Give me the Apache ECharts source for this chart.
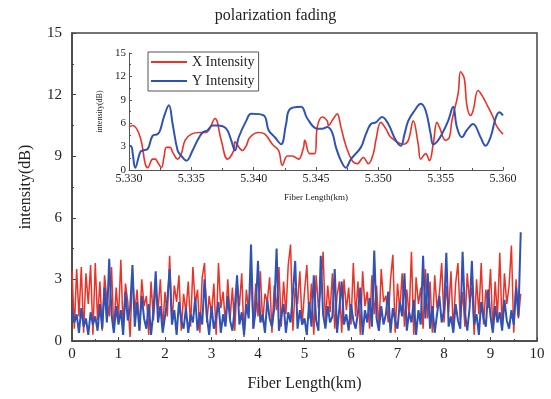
<!DOCTYPE html>
<html>
<head>
<meta charset="utf-8">
<script src="https://cdn.jsdelivr.net/npm/echarts@6/dist/echarts.min.js"></script>
<style>
  html, body { margin: 0; padding: 0; background: #fff; }
  #chart { width: 551px; height: 399px; }
</style>
</head>
<body>
<div id="chart"></div>
<script>
// main trace: sampled every 0.05 km from 0 to 9.65 km
const mainStep = 0.05;
const mainX = [
  3.4, 0.6, 3.5, 1.2, 3.6, 0.4, 3.3, 1.8, 3.7, 0.3,
  3.8, 1.0, 2.9, 0.5, 3.2, 2.0, 1.2, 3.6, 0.4, 2.6,
  1.1, 3.95, 0.6, 2.8, 1.9, 0.2, 3.3, 1.4, 2.5, 0.5,
  3.0, 1.7, 2.2, 0.3, 2.9, 1.0, 2.6, 1.5, 3.0, 0.6,
  2.4, 1.2, 4.15, 0.8, 2.7, 1.9, 3.2, 0.5, 2.3, 1.4,
  2.9, 0.7, 3.6, 1.8, 2.5, 0.4, 3.1, 3.8, 0.9, 2.2,
  1.3, 2.8, 0.3, 3.8, 1.6, 2.4, 0.8, 3.0, 1.1, 2.6,
  0.5, 2.9, 1.7, 3.3, 0.2, 2.5, 1.4, 3.5, 0.6, 2.8,
  1.2, 3.4, 0.9, 2.3, 1.9, 3.1, 0.4, 2.7, 1.5, 3.6,
  0.7, 2.9, 1.3, 3.7, 4.7, 0.5, 2.6, 1.8, 3.4, 0.8,
  2.4, 3.7, 1.1, 2.8, 0.3, 3.2, 1.6, 2.5, 4.35, 0.9,
  2.7, 1.4, 3.3, 0.6, 2.2, 2.9, 0.4, 3.0, 1.5, 2.6,
  0.8, 3.8, 1.2, 2.9, 0.3, 3.4, 1.7, 2.4, 0.6, 3.2,
  1.3, 2.7, 0.5, 3.5, 1.9, 2.2, 0.9, 3.0, 4.2, 0.4,
  2.8, 1.5, 3.3, 0.7, 2.5, 1.2, 4.35, 0.3, 3.1, 1.8,
  2.6, 0.6, 3.5, 1.1, 2.9, 0.4, 3.2, 1.6, 2.3, 3.8,
  0.9, 2.7, 1.4, 3.4, 0.5, 2.8, 3.8, 1.0, 2.4, 0.7,
  3.3, 1.9, 2.6, 0.3, 3.0, 1.3, 3.8, 0.8, 2.5, 1.6,
  3.5, 0.5, 2.9, 1.2, 4.3, 0.6, 3.3, 1.8, 2.7, 4.65,
  0.4, 3.0, 1.1, 2.3
];
const mainY = [
  1.5, 0.9, 1.3, 0.4, 1.6, 0.7, 1.1, 0.3, 1.4, 0.8,
  1.2, 0.5, 1.8, 0.6, 2.6, 0.9, 4.0, 1.3, 0.4, 1.7,
  0.8, 1.5, 0.3, 2.4, 1.0, 1.6, 3.7, 0.7, 1.9, 0.5,
  2.2, 1.1, 0.6, 1.8, 0.3, 1.4, 3.4, 0.9, 1.7, 0.4,
  1.2, 2.0, 3.5, 0.8, 1.5, 0.3, 1.9, 1.0, 0.6, 1.6,
  0.4, 1.3, 0.9, 2.1, 0.5, 1.4, 0.8, 3.0, 1.2, 0.3,
  1.7, 0.6, 1.1, 1.9, 0.4, 1.3, 0.7, 2.2, 1.0, 0.5,
  1.6, 3.2, 0.8, 1.4, 0.3, 1.8, 1.1, 4.7, 0.6, 1.5,
  3.9, 0.9, 1.3, 0.4, 2.0, 1.1, 0.7, 1.6, 4.5, 0.5,
  1.2, 1.8, 0.4, 1.4, 0.9, 2.3, 3.9, 0.6, 1.5, 0.8,
  1.1, 0.3, 1.9, 0.7, 3.2, 1.0, 0.5, 4.15, 1.3, 0.6,
  1.7, 0.9, 1.2, 3.5, 0.4, 1.6, 2.9, 0.8, 1.3, 0.5,
  1.8, 1.0, 0.6, 1.4, 2.6, 0.3, 1.5, 0.9, 2.1, 0.7,
  4.4, 1.1, 0.5, 1.7, 0.8, 1.3, 2.4, 0.4, 1.6, 1.0,
  0.6, 1.9, 1.2, 3.3, 0.5, 1.4, 0.9, 2.0, 0.3, 1.5,
  0.8, 4.15, 1.1, 3.3, 0.6, 1.7, 0.4, 1.3, 2.2, 0.9,
  1.5, 4.3, 0.7, 1.2, 0.4, 1.8, 1.0, 0.6, 4.35, 1.4,
  0.5, 1.6, 3.9, 0.8, 1.3, 0.3, 1.9, 1.1, 0.7, 2.5,
  1.2, 0.4, 1.7, 0.9, 1.4, 0.5, 2.0, 1.0, 0.6, 1.5,
  0.8, 2.6, 1.2, 5.3
];

// zoomed segment 5.330 - 5.360 km
const zoomXDist = [5.3300, 5.3303, 5.3309, 5.3313, 5.3315, 5.3319, 5.3321, 5.3323, 5.3326, 5.3328,
  5.3330, 5.3333, 5.3335, 5.3339, 5.3342, 5.3345, 5.3350, 5.3357, 5.3361, 5.3364,
  5.3369, 5.3374, 5.3379, 5.3384, 5.3385, 5.3391, 5.3394, 5.3397, 5.3404, 5.3409,
  5.3415, 5.3420, 5.3423, 5.3427, 5.3431, 5.3436, 5.3440, 5.3441, 5.3445, 5.3449,
  5.3451, 5.3455, 5.3459, 5.3460, 5.3464, 5.3467, 5.3470, 5.3474, 5.3479, 5.3483,
  5.3488, 5.3492, 5.3496, 5.3498, 5.3502, 5.3506, 5.3510, 5.3520, 5.3524, 5.3528,
  5.3532, 5.3534, 5.3538, 5.3541, 5.3544, 5.3547, 5.3549, 5.3554, 5.3557, 5.3559,
  5.3564, 5.3566, 5.3569, 5.3571, 5.3574, 5.3576, 5.3580, 5.3583, 5.3588, 5.3592,
  5.3595, 5.3600];
const zoomX = [5.5, 5.7, 4.2, 0.8, 0.3, 1.4, 1.4, 1.0, 0.3, 1.6,
  2.9, 2.9, 2.3, 1.4, 2.1, 3.8, 4.6, 4.8, 4.8, 5.1,
  6.6, 3.8, 1.4, 2.5, 3.6, 2.5, 3.1, 4.2, 4.8, 4.6,
  3.3, 2.5, 0.6, 1.8, 1.8, 1.4, 2.9, 3.8, 2.1, 2.1,
  5.5, 6.8, 6.3, 5.7, 6.6, 7.2, 5.5, 3.1, 1.2, 0.8,
  1.6, 0.8, 2.1, 3.8, 6.1, 5.3, 4.2, 3.3, 3.8, 6.3,
  3.3, 1.4, 2.1, 1.2, 3.3, 6.1, 5.5, 3.8, 4.2, 6.3,
  9.8, 12.6, 11.7, 8.3, 7.0, 7.6, 10.2, 9.6, 8.1, 6.8,
  5.6, 4.6];
const zoomYDist = [5.3300, 5.3302, 5.3303, 5.3305, 5.3309, 5.3311, 5.3315, 5.3319, 5.3323, 5.3325,
  5.3328, 5.3332, 5.3335, 5.3339, 5.3342, 5.3346, 5.3351, 5.3355, 5.3359, 5.3363,
  5.3367, 5.3371, 5.3378, 5.3382, 5.3385, 5.3388, 5.3394, 5.3398, 5.3408, 5.3412,
  5.3417, 5.3422, 5.3426, 5.3429, 5.3438, 5.3443, 5.3451, 5.3455, 5.3459, 5.3463,
  5.3466, 5.3470, 5.3474, 5.3478, 5.3486, 5.3490, 5.3494, 5.3498, 5.3503, 5.3508,
  5.3514, 5.3518, 5.3521, 5.3524, 5.3529, 5.3534, 5.3538, 5.3542, 5.3544, 5.3547,
  5.3551, 5.3556, 5.3560, 5.3563, 5.3567, 5.3571, 5.3576, 5.3582, 5.3586, 5.3590,
  5.3594, 5.3597, 5.3600];
const zoomY = [3.1, 3.0, 2.1, 0.3, 2.3, 2.5, 2.7, 4.4, 4.6, 5.1,
  6.8, 8.3, 5.9, 2.5, 1.8, 1.2, 2.5, 3.8, 4.8, 5.1,
  5.7, 5.7, 5.3, 3.8, 2.5, 4.2, 6.3, 7.2, 7.0, 5.1,
  4.2, 3.3, 5.9, 7.8, 8.1, 6.6, 5.3, 5.3, 5.5, 4.8,
  2.9, 1.2, 0.3, 1.4, 2.9, 4.6, 5.9, 6.1, 6.8, 5.9,
  3.8, 3.1, 4.6, 6.3, 7.6, 8.5, 7.6, 4.6, 3.3, 3.6,
  4.6, 6.3, 8.1, 5.5, 4.2, 5.1, 5.9, 4.2, 3.1, 4.2,
  6.6, 7.4, 7.0, 6.6, 6.1, 3.8, 2.1];

const mainTicksY = [0, 3, 6, 9, 12, 15];
const zoomTicksX = ['5.330', '5.335', '5.340', '5.345', '5.350', '5.355', '5.360'];

const RED = '#ec3226';
const BLUE = '#2e52b6';
const FONT = '"Liberation Serif", "Times New Roman", serif';
const INK = '#222';

const pairs = (xs, ys) => ys.map((v, i) => [xs[i], v]);
const stepped = (ys) => ys.map((v, i) => [+(i * mainStep).toFixed(2), v]);

const chart = echarts.init(document.getElementById('chart'), null, { renderer: 'canvas' });

const option = {
  animation: false,
  backgroundColor: '#fff',
  title: {
    text: 'polarization fading',
    left: 'center',
    top: 3,
    textStyle: { fontFamily: FONT, fontSize: 16, fontWeight: 'normal', color: INK }
  },
  legend: {
    data: [
      { name: 'X Intensity', itemStyle: { color: RED } },
      { name: 'Y Intensity', itemStyle: { color: BLUE } }
    ],
    orient: 'vertical',
    left: 148,
    top: 52,
    padding: [3, 4, 3, 3],
    itemGap: 5,
    itemWidth: 36,
    itemHeight: 2,
    icon: 'rect',
    borderColor: '#555',
    borderWidth: 1,
    borderRadius: 0,
    textStyle: { fontFamily: FONT, fontSize: 14, color: INK }
  },
  grid: [
    { left: 72, right: 14, top: 33, bottom: 58, show: true, borderColor: '#444', borderWidth: 1.5 },
    { left: 129, right: 48, top: 53, bottom: 229 }
  ],
  xAxis: [
    {
      gridIndex: 0, type: 'value', min: 0, max: 10, interval: 1,
      name: 'Fiber Length(km)', nameLocation: 'middle', nameGap: 35,
      nameTextStyle: { fontFamily: FONT, fontSize: 16, color: INK },
      axisLine: { lineStyle: { color: '#444', width: 1.5 } },
      axisTick: { inside: true, length: 4, lineStyle: { color: '#444' } },
      minorTick: { show: true, splitNumber: 2, length: 2, lineStyle: { color: '#444' } },
      axisLabel: { fontFamily: FONT, fontSize: 15, color: INK, margin: 6 },
      splitLine: { show: false }
    },
    {
      gridIndex: 1, type: 'value', min: 5.330, max: 5.360, interval: 0.005,
      name: 'Fiber Length(km)', nameLocation: 'middle', nameGap: 23,
      nameTextStyle: { fontFamily: FONT, fontSize: 9, color: INK },
      axisLine: { lineStyle: { color: '#555', width: 1 } },
      axisTick: { inside: true, length: 3, lineStyle: { color: '#555' } },
      minorTick: { show: true, splitNumber: 2, length: 2, lineStyle: { color: '#555' } },
      axisLabel: {
        fontFamily: FONT, fontSize: 12, color: INK, margin: 3,
        formatter: (v) => {
          const i = Math.round((v - 5.330) / 0.005);
          return zoomTicksX[i] || '';
        }
      },
      splitLine: { show: false }
    }
  ],
  yAxis: [
    {
      gridIndex: 0, type: 'value', min: 0, max: 15, interval: 3,
      name: 'intensity(dB)', nameLocation: 'middle', nameGap: 38,
      nameTextStyle: { fontFamily: FONT, fontSize: 16, color: INK },
      axisLine: { lineStyle: { color: '#444', width: 1.5 } },
      axisTick: { inside: true, length: 4, lineStyle: { color: '#444' } },
      minorTick: { show: true, splitNumber: 2, length: 2, lineStyle: { color: '#444' } },
      axisLabel: {
        fontFamily: FONT, fontSize: 15, color: INK, margin: 10,
        formatter: (v) => mainTicksY.includes(v) ? String(v) : ''
      },
      splitLine: { show: false }
    },
    {
      gridIndex: 1, type: 'value', min: 0, max: 15, interval: 3,
      name: 'intensity(dB)', nameLocation: 'middle', nameGap: 18,
      nameTextStyle: { fontFamily: FONT, fontSize: 8, color: INK },
      axisLine: { lineStyle: { color: '#555', width: 1 } },
      axisTick: { inside: true, length: 3, lineStyle: { color: '#555' } },
      minorTick: { show: true, splitNumber: 2, length: 2, lineStyle: { color: '#555' } },
      axisLabel: { fontFamily: FONT, fontSize: 11, color: INK, margin: 3 },
      splitLine: { show: false }
    }
  ],
  series: [
    {
      name: 'X main', type: 'line', xAxisIndex: 0, yAxisIndex: 0,
      data: stepped(mainX), symbol: 'none',
      lineStyle: { color: RED, width: 1.5 }, itemStyle: { color: RED }
    },
    {
      name: 'Y main', type: 'line', xAxisIndex: 0, yAxisIndex: 0,
      data: stepped(mainY), symbol: 'none',
      lineStyle: { color: BLUE, width: 2 }, itemStyle: { color: BLUE }
    },
    {
      name: 'X Intensity', type: 'line', xAxisIndex: 1, yAxisIndex: 1,
      data: pairs(zoomXDist, zoomX), symbol: 'none', smooth: 0.4,
      lineStyle: { color: RED, width: 1.6 }, itemStyle: { color: RED }
    },
    {
      name: 'Y Intensity', type: 'line', xAxisIndex: 1, yAxisIndex: 1,
      data: pairs(zoomYDist, zoomY), symbol: 'none', smooth: 0.4,
      lineStyle: { color: BLUE, width: 2 }, itemStyle: { color: BLUE }
    }
  ]
};

chart.setOption(option);
</script>
</body>
</html>
